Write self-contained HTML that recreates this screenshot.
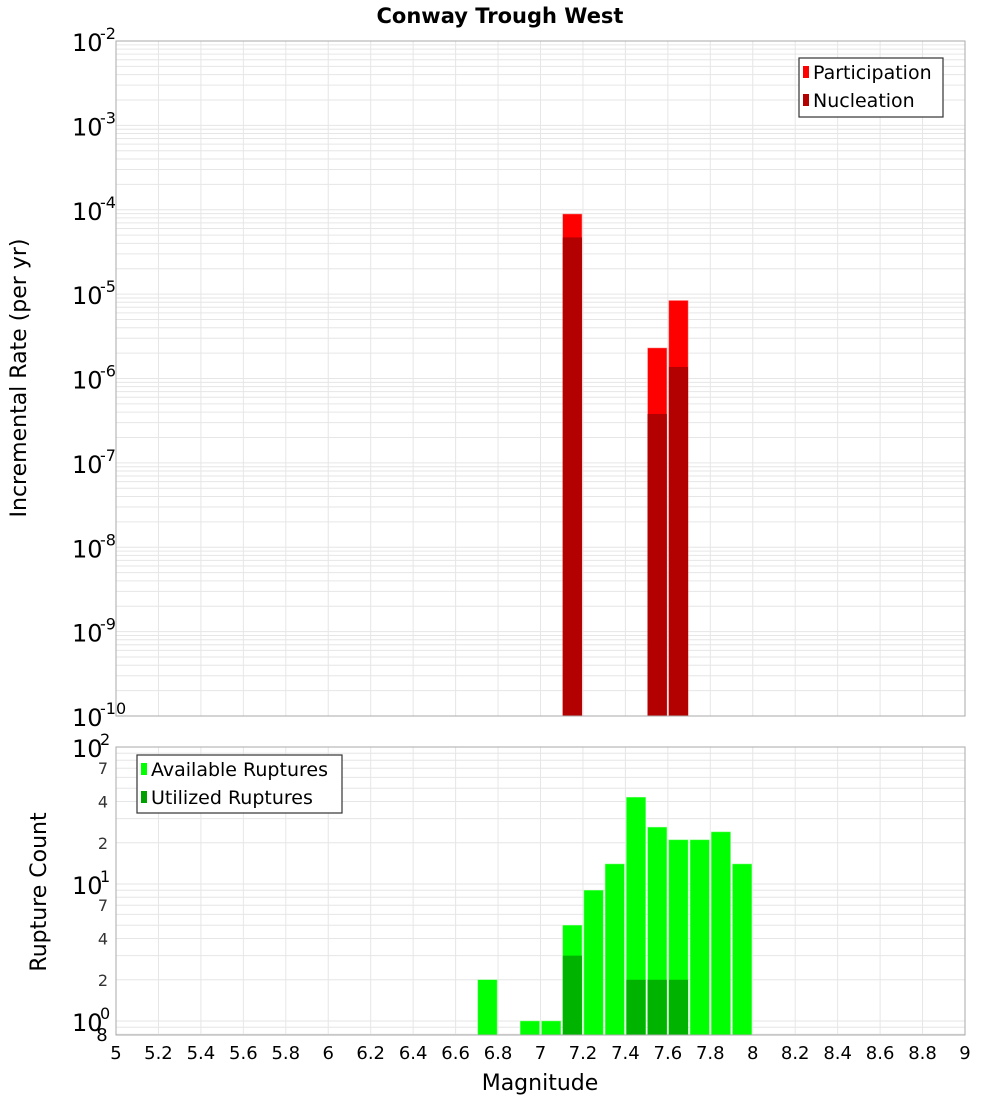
<!DOCTYPE html>
<html><head><meta charset="utf-8"><style>
body{margin:0;background:#fff;font-family:"DejaVu Sans","Liberation Sans",sans-serif}
svg{display:block}
</style></head><body>
<svg id="c" width="1000" height="1100" xmlns="http://www.w3.org/2000/svg">
<text x="500" y="23" text-anchor="middle" font-size="21" font-weight="bold">Conway Trough West</text>
</svg>
<script>
const xTicks=[5,5.2,5.4,5.6,5.8,6,6.2,6.4,6.6,6.8,7,7.2,7.4,7.6,7.8,8,8.2,8.4,8.6,8.8,9];
const rateBins=[7.1,7.5,7.6];
const participation=[8.9e-5,2.3e-6,8.4e-6];
const nucleation=[4.7e-5,3.8e-7,1.37e-6];
const countBins=[6.7,6.9,7.0,7.1,7.2,7.3,7.4,7.5,7.6,7.7,7.8,7.9];
const available=[2,1,1,5,9,14,43,26,21,21,24,14];
const utilBins=[7.1,7.4,7.5,7.6];
const utilized=[3,2,2,2];
const binW=0.1;

const NS="http://www.w3.org/2000/svg";
const svg=document.getElementById('c');
function el(t,a,p){const e=document.createElementNS(NS,t);for(const k in a)e.setAttribute(k,a[k]);(p||svg).appendChild(e);return e;}
const X0=116,X1=965;
const x=m=>X0+(m-5)/(9-5)*(X1-X0);
const T={top:41,bot:716,lmin:-10,lmax:-2};
const B={top:747,bot:1035,lmin:Math.log10(0.8),lmax:2};
const B_dec=137; // px per decade bottom (for reference)
function yT(v){return T.bot-(Math.log10(v)-T.lmin)/(T.lmax-T.lmin)*(T.bot-T.top);}
function yB(v){const d=(1021-747)/2;return 1021-Math.log10(v)*d;}

function panel(P,yf,name,decs){
  const g=el('g',{});  
  el('rect',{x:X0,y:P.top,width:X1-X0,height:P.bot-P.top,fill:'#fff'},g);
  // horizontal minor grid
  for(const d of decs){for(let k=1;k<10;k++){const v=k*Math.pow(10,d);const yy=yf(v);if(yy<P.top-0.5||yy>P.bot+0.5)continue;
    el('line',{x1:X0,x2:X1,y1:yy,y2:yy,stroke:'#e6e6e6','stroke-width':1},g);}}
  for(const t of xTicks){el('line',{x1:x(t),x2:x(t),y1:P.top,y2:P.bot,stroke:'#e6e6e6','stroke-width':1},g);}
  return g;
}
const gT=panel(T,yT,'rate',[-10,-9,-8,-7,-6,-5,-4,-3,-2]);
for(let i=0;i<rateBins.length;i++){
  const r=el('rect',{x:x(rateBins[i])+1,y:yT(participation[i]),width:x(rateBins[i]+binW)-x(rateBins[i])-2,height:T.bot-yT(participation[i]),fill:'#ff0000',stroke:'#ff8080','stroke-width':0.5},gT);
  
  
  const n=el('rect',{x:x(rateBins[i])+1,y:yT(nucleation[i]),width:x(rateBins[i]+binW)-x(rateBins[i])-2,height:T.bot-yT(nucleation[i]),fill:'#b30000'},gT);
  
  
}
el('rect',{x:X0,y:T.top,width:X1-X0,height:T.bot-T.top,fill:'none',stroke:'#aaa'},gT);
for(let d=-10;d<=-2;d++){const yy=yT(Math.pow(10,d));
  const t=el('text',{x:72,y:yy+10,'font-size':24},gT);t.textContent='10';
  
  const s=el('text',{x:100,y:yy-2,'font-size':16},gT);s.textContent=String(d);}
const gB=panel(B,yB,'count',[-1,0,1]);
for(let i=0;i<countBins.length;i++){
  const r=el('rect',{x:x(countBins[i])+1,y:yB(available[i]),width:x(countBins[i]+binW)-x(countBins[i])-2,height:B.bot-yB(available[i]),fill:'#00ff00',stroke:'#80ff80','stroke-width':0.5},gB);
  
  
}
for(let i=0;i<utilBins.length;i++){
  const r=el('rect',{x:x(utilBins[i])+1,y:yB(utilized[i]),width:x(utilBins[i]+binW)-x(utilBins[i])-2,height:B.bot-yB(utilized[i]),fill:'#00b300'},gB);
  
  
}
el('rect',{x:X0,y:B.top,width:X1-X0,height:B.bot-B.top,fill:'none',stroke:'#aaa'},gB);
for(const d of [0,1,2]){const yy=yB(Math.pow(10,d));
  const t=el('text',{x:72,y:yy+10,'font-size':24},gB);t.textContent='10';
  
  const s=el('text',{x:100,y:yy-2,'font-size':16},gB);s.textContent=String(d);}
for(const d of [0,1]){for(const k of [2,4,7]){const yy=yB(k*Math.pow(10,d));
  const t=el('text',{x:103,y:yy+6,'font-size':16,'text-anchor':'middle',fill:'#333'},gB);t.textContent=String(k);}}
{const t=el('text',{x:102,y:1041,'font-size':18,'text-anchor':'middle'},gB);t.textContent='8';}
for(const t of xTicks){const tx=el('text',{x:x(t),y:1059,'font-size':18,'text-anchor':'middle'});tx.textContent=String(t);
  }
{const t=el('text',{x:540,y:1090,'font-size':22,'text-anchor':'middle'});t.textContent='Magnitude';
 }
{const t=el('text',{x:0,y:0,'font-size':22,'text-anchor':'middle',transform:'translate(26,378) rotate(-90)'});t.textContent='Incremental Rate (per yr)';
 }
{const t=el('text',{x:0,y:0,'font-size':22,'text-anchor':'middle',transform:'translate(46,892) rotate(-90)'});t.textContent='Rupture Count';
 }
function legend(x0,y0,w,h,items,name){
  const g=el('g',{});
  el('rect',{x:x0,y:y0,width:w,height:h,fill:'#fff',stroke:'#333','stroke-width':1.2},g);
  items.forEach((it,i)=>{const yy=y0+14+i*28;
    el('rect',{x:x0+4,y:yy-6,width:6,height:12,fill:it[1]},g);
    const t=el('text',{x:x0+14,y:yy+7,'font-size':19},g);t.textContent=it[0];
    });
}
legend(799,58,144,59,[['Participation','#ff0000'],['Nucleation','#b30000']],'rate-legend');
legend(137,755,205,58,[['Available Ruptures','#00ff00'],['Utilized Ruptures','#00a000']],'count-legend');
</script>
</body></html>
